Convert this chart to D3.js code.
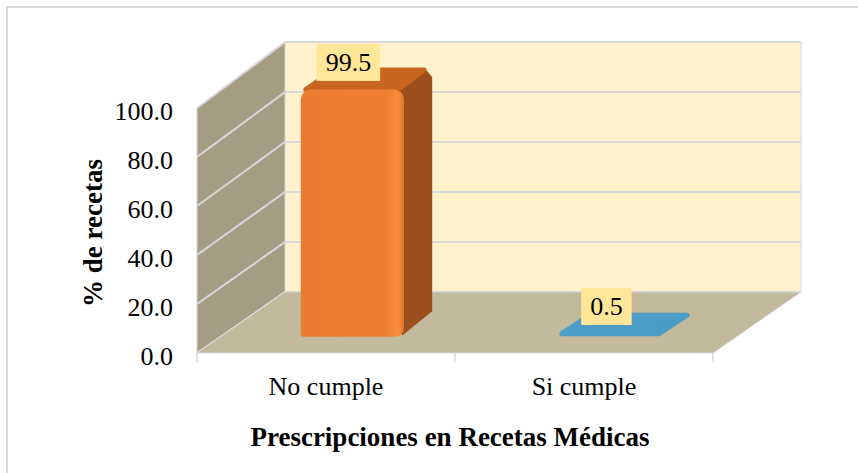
<html>
  <head>
    <meta charset="utf-8" />
    <script src="https://d3js.org/d3.v7.min.js"></script>
    <style>
      body { margin: 0; background: #fff; }
      text { font-family: "Liberation Serif", "Times New Roman", serif; fill: #000; }
    </style>
  </head>
  <body>
    <svg width="858" height="473"></svg>
    <script>
      const categories = ["No cumple", "Si cumple"];
      const values = [99.5, 0.5];
      const tickValues = [0, 20, 40, 60, 80, 100];

      const svg = d3.select("svg");

      // marco exterior
      svg.append("rect")
        .attr("x", 7).attr("y", 7).attr("width", 870).attr("height", 480)
        .attr("fill", "none").attr("stroke", "#d9d9d9").attr("stroke-width", 2);

      // geometría 3D: frente del suelo y profundidad
      const floorY = 353;
      const depthX = 88, depthY = 61;
      const xScale = d3.scaleBand().domain(categories).range([197, 713])
        .paddingInner(0.6).paddingOuter(0.3);
      const yScale = d3.scaleLinear().domain([0, 100]).range([0, 245]);

      // proyección: x en el frente, valor, profundidad (0 frente, 1 fondo)
      function px(x, d) { return x + d * depthX; }
      function py(v, d) { return floorY - d * depthY - yScale(v) * (1 + 0.02 * d); }
      const x0 = 197, x1 = 713;

      const poly = pts => "M" + pts.map(p => p.join(",")).join("L") + "Z";

      // pared del fondo
      svg.append("path")
        .attr("d", poly([[px(x0,1),py(0,1)],[px(x1,1),py(0,1)],[px(x1,1),py(100,1)],[px(x0,1),py(100,1)]]))
        .attr("fill", "#fff2cc").attr("stroke", "#d9d9d9").attr("stroke-width", 1);
      // pared lateral
      svg.append("path")
        .attr("d", poly([[px(x0,0),py(0,0)],[px(x0,1),py(0,1)],[px(x0,1),py(100,1)],[px(x0,0),py(100,0)]]))
        .attr("fill", "#a59d83").attr("stroke", "#d9d9d9").attr("stroke-width", 1);

      // líneas de cuadrícula
      tickValues.forEach(v => {
        svg.append("path")
          .attr("d", `M${px(x0,0)},${py(v,0)}L${px(x0,1)},${py(v,1)}L${px(x1,1)},${py(v,1)}`)
          .attr("fill", "none").attr("stroke", "#d9d9d9").attr("stroke-width", 2);
      });

      // suelo
      svg.append("path")
        .attr("d", poly([[px(x0,0),py(0,0)],[px(x1,0),py(0,0)],[px(x1,1),py(0,1)],[px(x0,1),py(0,1)]]))
        .attr("fill", "#c3b99c").attr("stroke", "#d9d9d9").attr("stroke-width", 1);

      // marcas del eje x
      [x0, (x0 + x1) / 2, x1].forEach(x => {
        svg.append("line")
          .attr("x1", x).attr("x2", x).attr("y1", floorY).attr("y2", floorY + 9)
          .attr("stroke", "#d9d9d9").attr("stroke-width", 1.5);
      });

      // etiquetas eje y
      svg.append("g").selectAll("text").data(tickValues).enter().append("text")
        .attr("x", 173).attr("y", d => py(d, 0) + 12)
        .attr("text-anchor", "end").attr("font-size", 26)
        .text(d => d.toFixed(1));

      svg.append("text")
        .attr("transform", "translate(102,233) rotate(-90)")
        .attr("text-anchor", "middle").attr("font-size", 27).attr("font-weight", "bold")
        .text("% de recetas");

      // categorías
      svg.append("g").selectAll("text").data(categories).enter().append("text")
        .attr("x", d => xScale(d) + xScale.bandwidth() / 2)
        .attr("y", 395).attr("text-anchor", "middle").attr("font-size", 26)
        .text(d => d);

      svg.append("text")
        .attr("x", 450).attr("y", 446).attr("text-anchor", "middle")
        .attr("font-size", 27).attr("font-weight", "bold")
        .text("Prescripciones en Recetas Médicas");

      // gradiente frente naranja
      const defs = svg.append("defs");
      const g1 = defs.append("linearGradient").attr("id", "orangeFront");
      [[0, "#eb7b30"], [0.82, "#ee7f32"], [0.94, "#f88e3d"], [1, "#e47631"]].forEach(s =>
        g1.append("stop").attr("offset", s[0]).attr("stop-color", s[1]));

      const colors = [
        { front: "url(#orangeFront)", top: "#c8661f", side: "#9c4e1c" },
        { front: "#4a9cc6", top: "#4b9dc6", side: "#3f86ab" }
      ];
      const d0 = 0.3, d1 = 0.62;

      // rectángulo con esquinas redondeadas (sup. izq., sup. der., inf. der., inf. izq.)
      function roundRect(x, y, w, h, r) {
        return `M${x},${y + r[0]}Q${x},${y} ${x + r[0]},${y}` +
          `L${x + w - r[1]},${y}Q${x + w},${y} ${x + w},${y + r[1]}` +
          `L${x + w},${y + h - r[2]}Q${x + w},${y + h} ${x + w - r[2]},${y + h}` +
          `L${x + r[3]},${y + h}Q${x},${y + h} ${x},${y + h - r[3]}Z`;
      }

      categories.forEach((c, i) => {
        const v = values[i];
        const bw = xScale.bandwidth();
        const xl = px(xScale(c), d0), xr = xl + bw;
        const yt = py(v, d0), yb = py(0, d0);
        const ox = (d1 - d0) * depthX, oy = (d1 - d0) * depthY;
        if (yb - yt > 6) {
          // lateral
          svg.append("path")
            .attr("d", poly([[xr - 6, yt], [xr + ox - 6, yt - oy], [xr + ox, yt - oy + 7], [xr + ox, yb - oy - 4], [xr - 2, yb + 1]]))
            .attr("fill", colors[i].side);
          // superior
          svg.append("path")
            .attr("d", poly([[xl + 5, yt], [xl + ox + 5, yt - oy], [xr + ox - 8, yt - oy], [xr - 6, yt]]))
            .attr("fill", colors[i].top)
            .attr("stroke", colors[i].top).attr("stroke-width", 5).attr("stroke-linejoin", "round");
          // frente
          svg.append("path")
            .attr("d", roundRect(xl, yt, bw, yb - yt + 2, [12, 12, 10, 2]))
            .attr("fill", colors[i].front);
        } else {
          // barra casi plana: sólo la cara superior
          svg.append("path")
            .attr("d", poly([[xl + 3, yb - 1], [xl + ox + 3, yb - oy], [xr + ox - 3, yb - oy], [xr - 3, yb - 1]]))
            .attr("fill", colors[i].top)
            .attr("stroke", colors[i].top).attr("stroke-width", 5).attr("stroke-linejoin", "round");
        }

        // etiqueta de datos
        const label = v.toFixed(1);
        const lx = xl + bw / 2 - 4, ly = yt - 27;
        const t = svg.append("text").attr("x", lx).attr("y", ly + 9)
          .attr("text-anchor", "middle").attr("font-size", 26).text(label);
        const w = t.node().getComputedTextLength() + 18;
        svg.insert("rect", () => t.node())
          .attr("x", lx - w / 2).attr("y", ly - 18.5).attr("width", w).attr("height", 37)
          .attr("fill", "#ffe699");
      });
    </script>
  </body>
</html>
